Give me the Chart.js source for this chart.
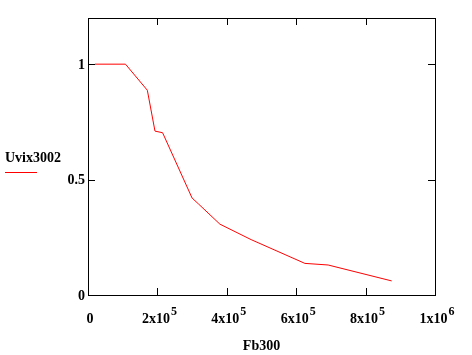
<!DOCTYPE html>
<html>
<head>
<meta charset="utf-8">
<script src="https://cdn.jsdelivr.net/npm/chart.js@4"></script>
<style>
body{margin:0;background:#fff;}
canvas{display:block;}
</style>
</head>
<body>
<canvas id="chart" width="472" height="355"></canvas>
<script>
// data
const fb300 = [20000, 108000, 171000, 193000, 215000, 300000, 318000, 380000, 470000, 625000, 692000, 875000];
const uvix3002 = [1.0, 1.0, 0.887, 0.71, 0.703, 0.42, 0.395, 0.307, 0.24, 0.137, 0.13, 0.061];

const xTicks = [0, 200000, 400000, 600000, 800000, 1000000];
const xTickBase = ["0", "2x10", "4x10", "6x10", "8x10", "1x10"];
const xTickExp = ["", "5", "5", "5", "5", "6"];
const yTicks = [0, 0.5, 1];
const yTickLabels = ["0", "0.5", "1"];

const seriesName = "Uvix3002";
const xTitle = "Fb300";

const FONT = '"Liberation Serif", "Times New Roman", serif';

const frame = {
id: "frame",
afterDraw(chart){
const ctx = chart.ctx;
const a = chart.chartArea;
const xs = chart.scales.x;
const ys = chart.scales.y;
ctx.save();
ctx.strokeStyle = "#000";
ctx.lineWidth = 1;
ctx.strokeRect(a.left + 0.5, a.top + 0.5, a.right - a.left, a.bottom - a.top);

// inward ticks
ctx.beginPath();
xTicks.forEach(v => {
if(v <= 0 || v >= 1000000) return;
let px = Math.round(xs.getPixelForValue(v)) + 0.5;
ctx.moveTo(px, a.bottom);
ctx.lineTo(px, a.bottom - 7);
ctx.moveTo(px, a.top);
ctx.lineTo(px, a.top + 7);
});
yTicks.forEach(v => {
if(v <= 0) return;
let py = Math.round(ys.getPixelForValue(v)) + 0.5;
ctx.moveTo(a.left, py);
ctx.lineTo(a.left + 7, py);
ctx.moveTo(a.right + 1, py);
ctx.lineTo(a.right - 7, py);
});
ctx.stroke();

ctx.fillStyle = "#000";
// y labels
ctx.font = "bold 14px " + FONT;
ctx.textAlign = "right";
ctx.textBaseline = "middle";
yTicks.forEach((v, i) => {
ctx.fillText(yTickLabels[i], a.left - 3, ys.getPixelForValue(v) + 1);
});

// x labels with superscript
ctx.textBaseline = "alphabetic";
ctx.textAlign = "left";
xTicks.forEach((v, i) => {
ctx.font = "bold 14px " + FONT;
let wb = ctx.measureText(xTickBase[i]).width;
ctx.font = "bold 12px " + FONT;
let we = xTickExp[i] ? ctx.measureText(xTickExp[i]).width + 1 : 0;
let cx = xs.getPixelForValue(v) + 2;
let x0 = cx - (wb + we) / 2;
ctx.font = "bold 14px " + FONT;
ctx.fillText(xTickBase[i], x0, 323);
if(xTickExp[i]){
ctx.font = "bold 12px " + FONT;
ctx.fillText(xTickExp[i], x0 + wb + 1, 315);
}
});

// axis title
ctx.font = "bold 14px " + FONT;
ctx.textAlign = "center";
ctx.fillText(xTitle, (a.left + a.right) / 2, 350);

// legend
ctx.textAlign = "left";
ctx.fillText(seriesName, 5, 162);
ctx.strokeStyle = "#ff0000";
ctx.beginPath();
ctx.moveTo(5, 172.5);
ctx.lineTo(37, 172.5);
ctx.stroke();
ctx.restore();
}
};

new Chart(document.getElementById("chart"), {
type: "scatter",
data: {
datasets: [{
label: seriesName,
data: fb300.map((x, i) => ({x: x, y: uvix3002[i]})),
showLine: true,
borderColor: "#ff0000",
borderWidth: 1,
pointRadius: 0,
tension: 0
}]
},
options: {
responsive: false,
animation: false,
layout: {padding: {left: 88, top: 18, right: 37, bottom: 60}},
plugins: {legend: {display: false}, tooltip: {enabled: false}},
scales: {
x: {type: "linear", display: false, min: 0, max: 1000000},
y: {type: "linear", display: false, min: 0, max: 1.2}
}
},
plugins: [frame]
});
</script>
</body>
</html>
